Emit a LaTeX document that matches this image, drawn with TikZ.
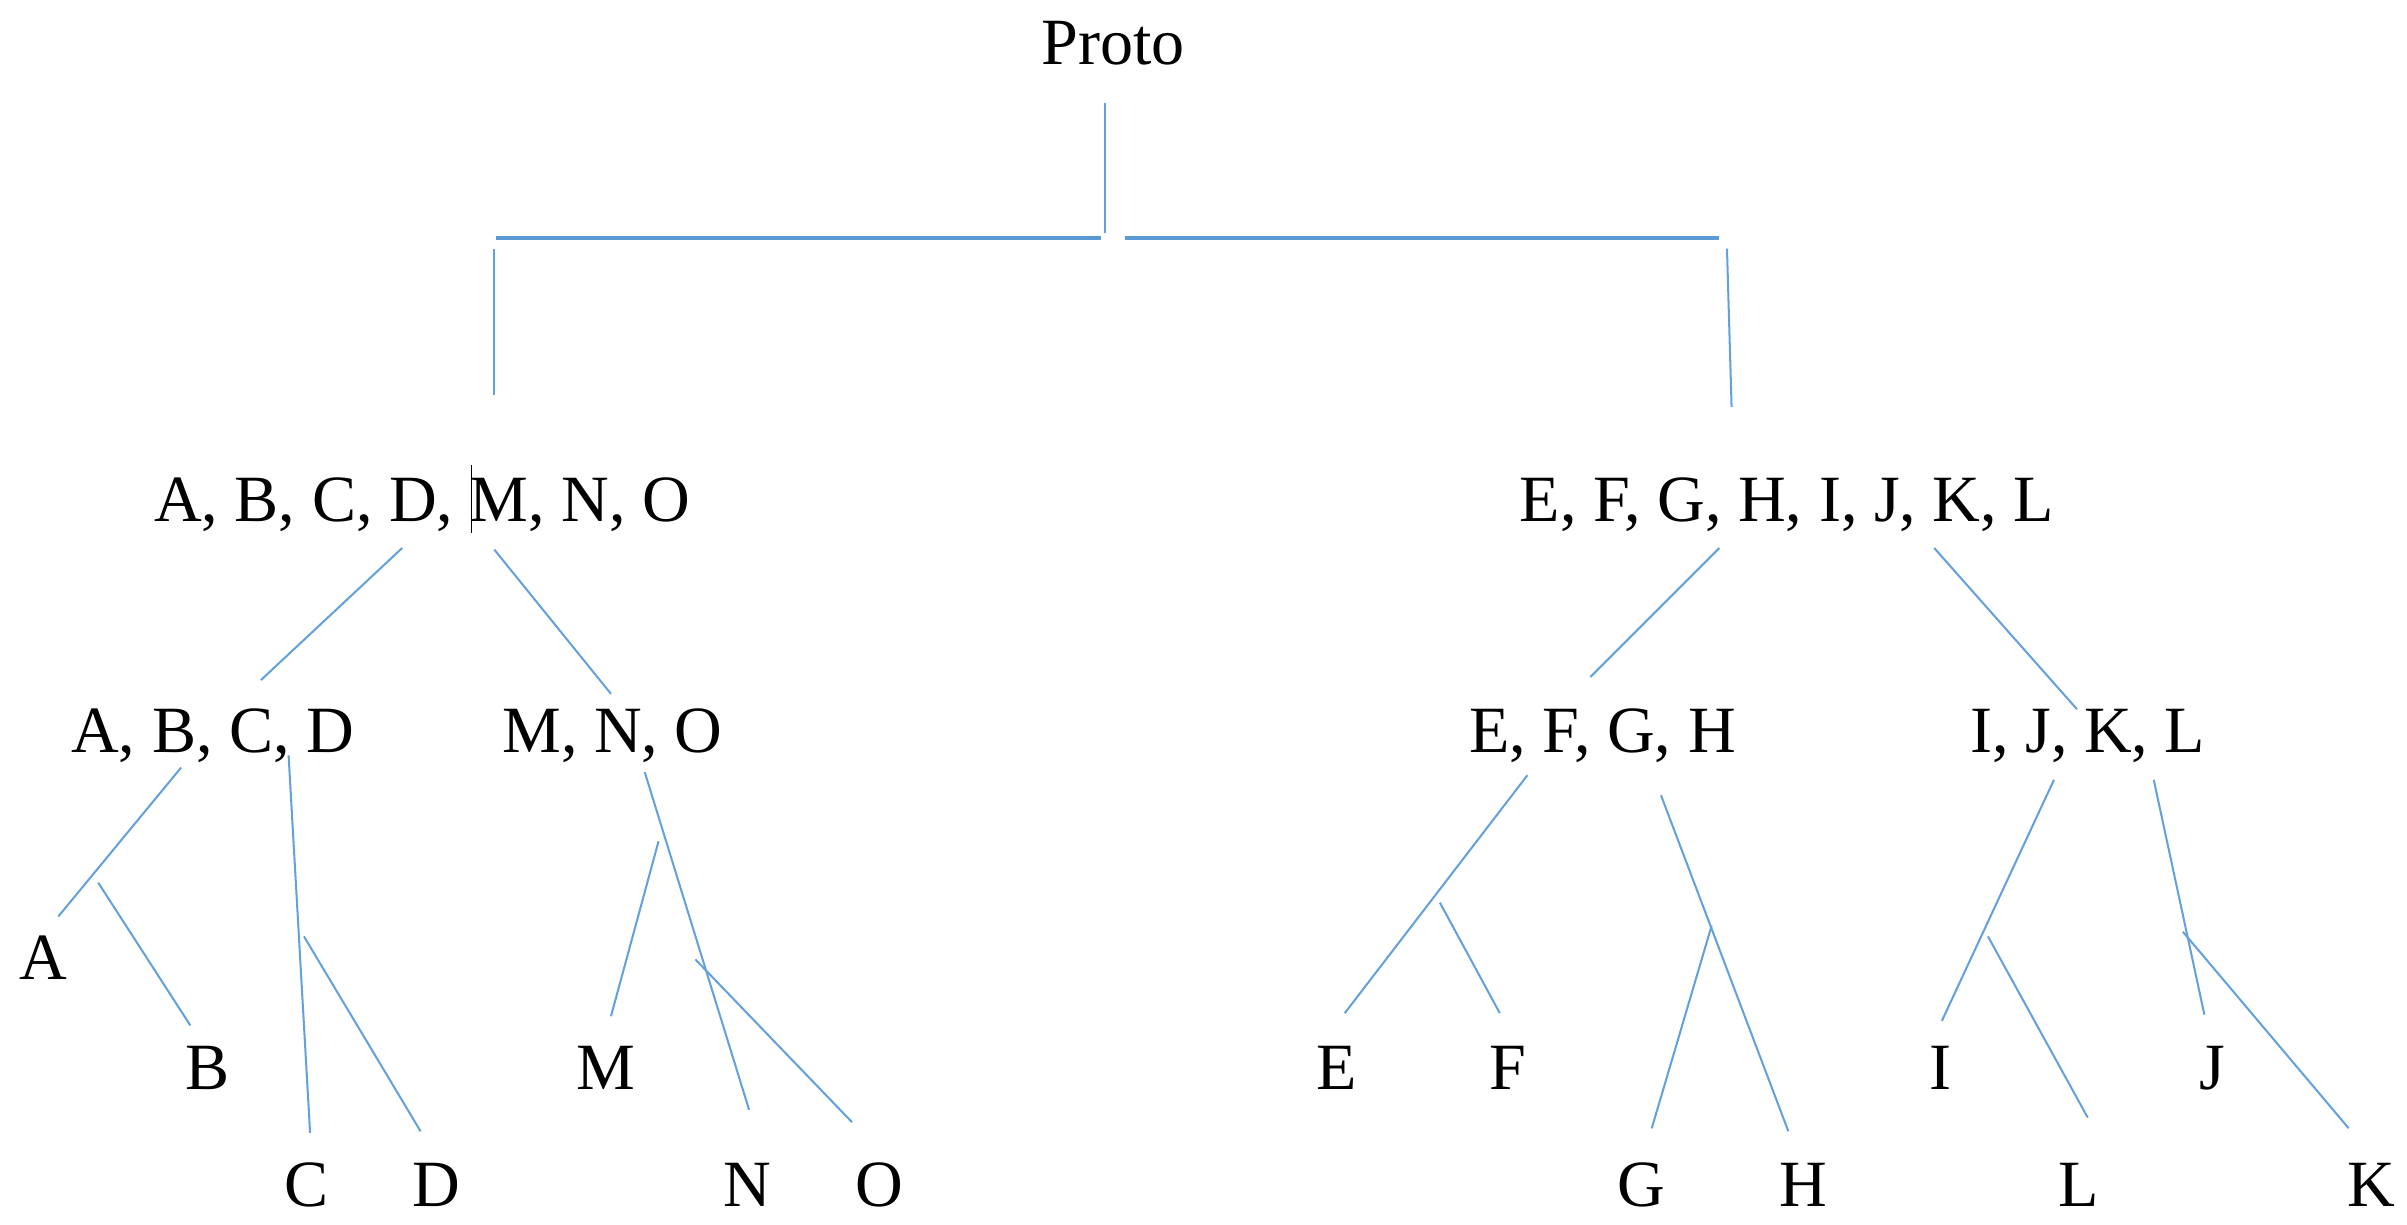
\documentclass[tikz,border=0pt]{standalone}
\usepackage{fontspec}
\setmainfont{Liberation Serif}
\begin{document}
\begin{tikzpicture}[x=0.02cm,y=-0.02cm,
  lbl/.style={anchor=base,inner sep=0pt,font=\fontsize{24.5}{29}\selectfont},
  br/.style={draw={rgb,255:red,100;green,160;blue,218},line width=0.75pt},
  hbr/.style={draw={rgb,255:red,91;green,155;blue,213},line width=1.2pt}]
\useasboundingbox (0,0) rectangle (1568,798);
% labels
\node[lbl] (proto) at (725,42) {Proto};
\node[lbl] (l1a) at (275,340) {A, B, C, D, M, N, O};
\node[lbl] (l1b) at (1164,340) {E, F, G, H, I, J, K, L};
\node[lbl] (abcd) at (138.5,490) {A, B, C, D};
\node[lbl] (mno) at (399,490) {M, N, O};
\node[lbl] (efgh) at (1044,490) {E, F, G, H};
\node[lbl] (ijkl) at (1360,490) {I, J, K, L};
\node[lbl] (A) at (28,638) {A};
\node[lbl] (B) at (135,710) {B};
\node[lbl] (C) at (200,786) {C};
\node[lbl] (D) at (284,786) {D};
\node[lbl] (M) at (395,710) {M};
\node[lbl] (N) at (487,786) {N};
\node[lbl] (O) at (573,786) {O};
\node[lbl] (E) at (871,710) {E};
\node[lbl] (F) at (982,710) {F};
\node[lbl] (G) at (1069,786) {G};
\node[lbl] (H) at (1175,786) {H};
\node[lbl] (I) at (1264,710) {I};
\node[lbl] (J) at (1441,710) {J};
\node[lbl] (L) at (1354,786) {L};
\node[lbl] (K) at (1545,786) {K};
% cursor bar
\coordinate (cu1) at (307,303); \coordinate (cu2) at (307,347);
\draw[black,line width=0.5pt] (cu1) -- (cu2);
% top bracket
\coordinate (t1) at (720,67); \coordinate (t2) at (720,152);
\coordinate (h1) at (323,155); \coordinate (h2) at (717,155);
\coordinate (h3) at (733,155); \coordinate (h4) at (1120,155);
\coordinate (v1a) at (322,162); \coordinate (v1b) at (322,257);
\coordinate (v2a) at (1125,162); \coordinate (v2b) at (1128,265);
\draw[br] (t1) -- (t2);
\draw[hbr] (h1) -- (h2);
\draw[hbr] (h3) -- (h4);
\draw[br] (v1a) -- (v1b);
\draw[br] (v2a) -- (v2b);
% left level 1
\coordinate (a1) at (262,357); \coordinate (a2) at (170,443);
\coordinate (b1) at (322,358); \coordinate (b2) at (398,452);
\draw[br] (a1) -- (a2);
\draw[br] (b1) -- (b2);
% ABCD
\coordinate (ca1) at (118,500); \coordinate (ca2) at (38,597);
\coordinate (cb1) at (64,575); \coordinate (cb2) at (124,668);
\coordinate (cc1) at (188,492); \coordinate (cc2) at (202,738);
\coordinate (cd1) at (198,610); \coordinate (cd2) at (274,737);
\draw[br] (ca1) -- (ca2);
\draw[br] (cb1) -- (cb2);
\draw[br] (cc1) -- (cc2);
\draw[br] (cd1) -- (cd2);
% MNO
\coordinate (cn1) at (420,503); \coordinate (cn2) at (488,723);
\coordinate (cm1) at (429,548); \coordinate (cm2) at (398,662);
\coordinate (co1) at (453,625); \coordinate (co2) at (555,731);
\draw[br] (cn1) -- (cn2);
\draw[br] (cm1) -- (cm2);
\draw[br] (co1) -- (co2);
% right level 1
\coordinate (r1) at (1120,357); \coordinate (r2) at (1036,441);
\coordinate (r3) at (1260,357); \coordinate (r4) at (1353,462);
\draw[br] (r1) -- (r2);
\draw[br] (r3) -- (r4);
% EFGH
\coordinate (ce1) at (995,505); \coordinate (ce2) at (876,660);
\coordinate (cf1) at (938,588); \coordinate (cf2) at (977,660);
\coordinate (ch1) at (1082,518); \coordinate (ch2) at (1165,737);
\coordinate (cg1) at (1115,603); \coordinate (cg2) at (1076,735);
\draw[br] (ce1) -- (ce2);
\draw[br] (cf1) -- (cf2);
\draw[br] (ch1) -- (ch2);
\draw[br] (cg1) -- (cg2);
% IJKL
\coordinate (ci1) at (1338,508); \coordinate (ci2) at (1265,665);
\coordinate (cl1) at (1295,610); \coordinate (cl2) at (1360,728);
\coordinate (cj1) at (1403,508); \coordinate (cj2) at (1436,661);
\coordinate (ck1) at (1422,607); \coordinate (ck2) at (1530,735);
\draw[br] (ci1) -- (ci2);
\draw[br] (cl1) -- (cl2);
\draw[br] (cj1) -- (cj2);
\draw[br] (ck1) -- (ck2);
\end{tikzpicture}
\end{document}
